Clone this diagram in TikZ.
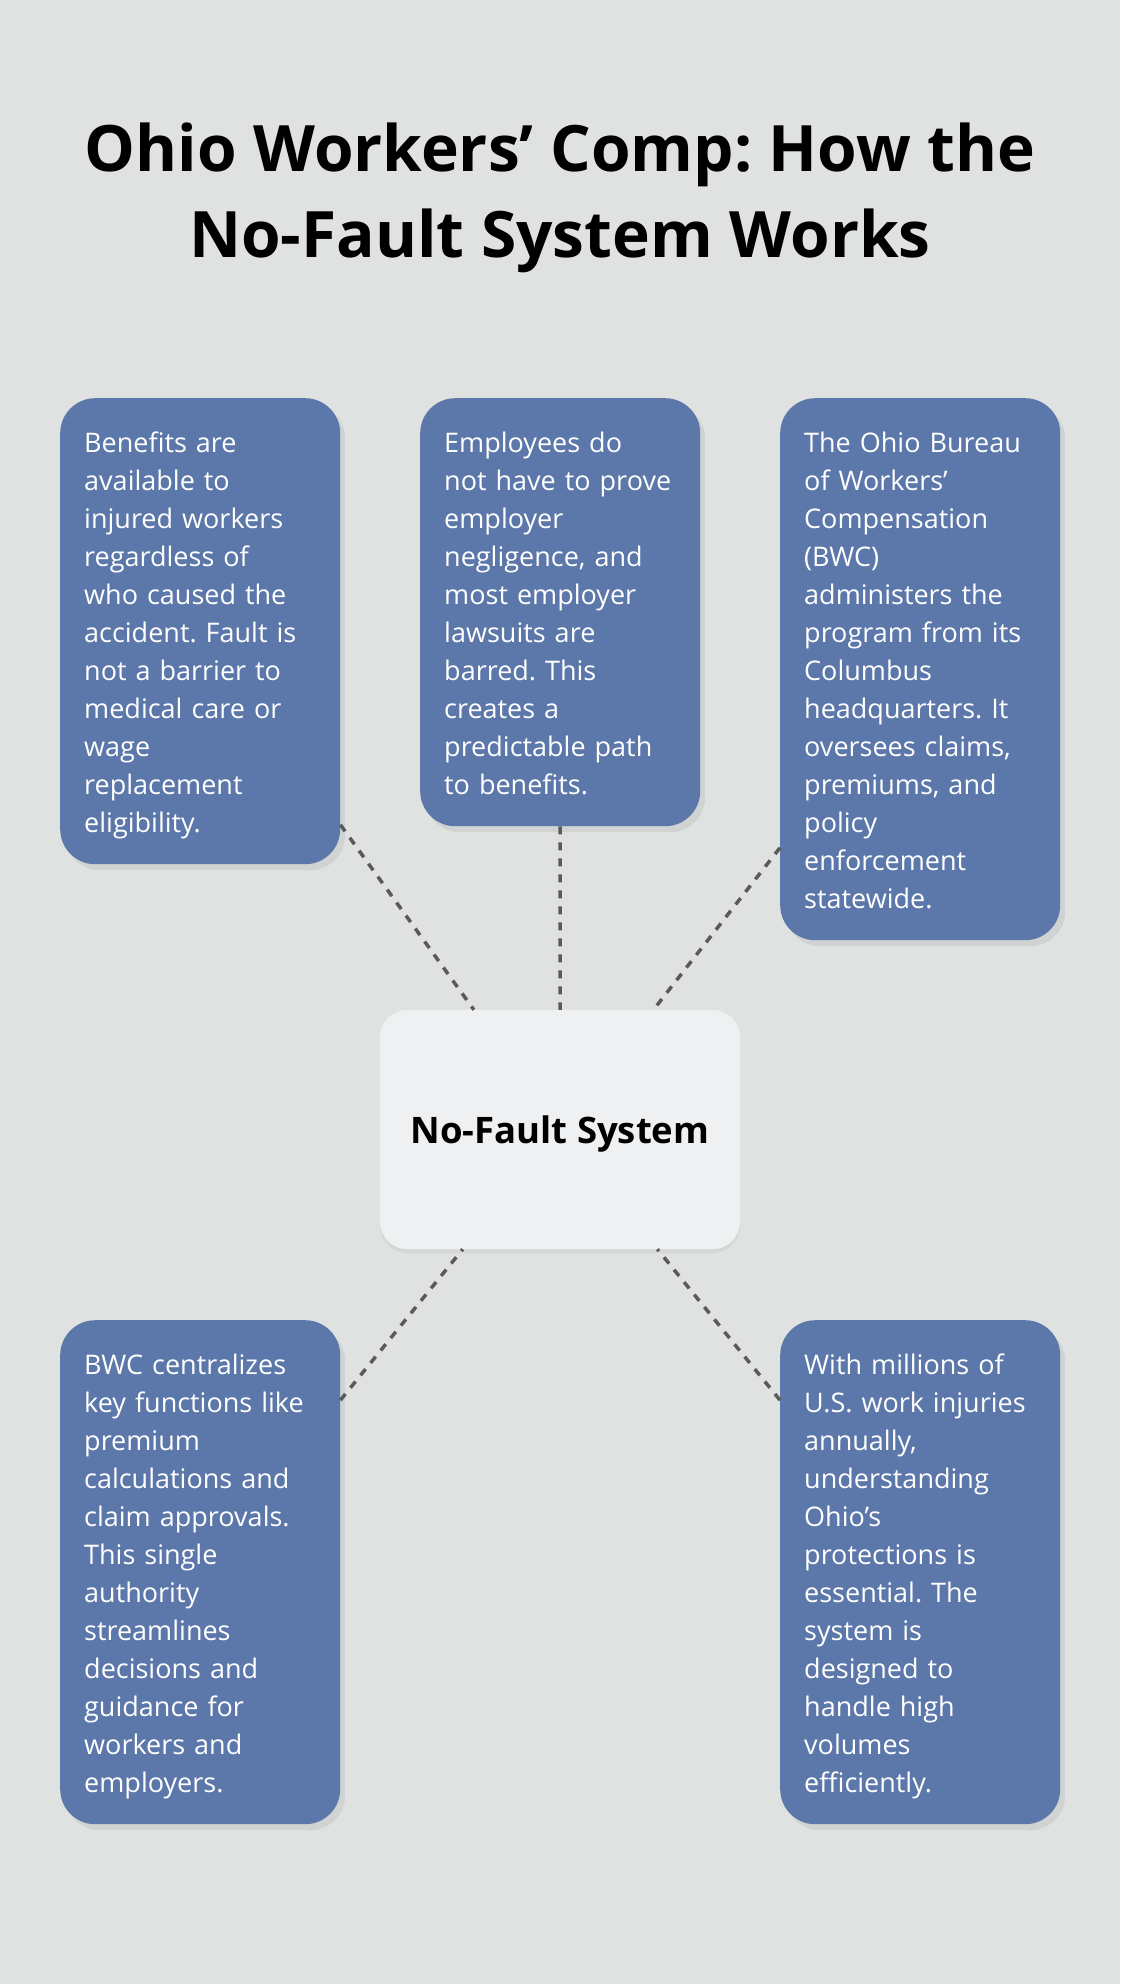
\documentclass[tikz,border=0pt]{standalone}
\usepackage{fontspec}
\setmainfont{Open Sans}
\usepackage{xcolor}
\usetikzlibrary{shadows}

\definecolor{bgGray}{HTML}{E0E2E1}
\definecolor{cardBlue}{HTML}{5C77A9}
\definecolor{hubWhite}{HTML}{EFF0F2}
\definecolor{linkGray}{HTML}{5A5A5A}

\newcommand{\cardstrut}{\rule[-8pt]{0pt}{38pt}}
\frenchspacing

\tikzset{
    card/.style={fill=cardBlue, text=white, rounded corners=35pt, inner sep=24pt,
        text width=232pt, align=left, anchor=north west,
        font=\fontsize{27}{38}\selectfont,
        execute at begin node=\cardstrut, execute at end node=\cardstrut,
        drop shadow={shadow xshift=5pt, shadow yshift=-6pt, opacity=0.15}},
    hub/.style={fill=hubWhite, rounded corners=27pt, minimum width=360pt, minimum height=239pt,
        text height=27pt, text depth=0pt,
        font=\bfseries\fontsize{36.5}{46}\selectfont,
        drop shadow={shadow xshift=0pt, shadow yshift=-4pt, opacity=0.1}},
    headline/.style={anchor=base, font=\bfseries\fontsize{64}{86}\selectfont},
    link/.style={linkGray, line width=3.5pt, dash pattern=on 8pt off 8pt}
}

\begin{document}
\begin{tikzpicture}[x=1pt, y=-1pt]
            \path[use as bounding box, fill=bgGray] (0,0) rectangle (1120,1984);
            % title
            \node[headline] (titleA) at (560,171) {Ohio Workers’ Comp: How the};
            \node[headline] (titleB) at (560,257) {No-Fault System Works};
            % cards
            \node[card] (benefits) at (60,398) {Benefits are\\ available to\\ injured workers\\ regardless of\\ who caused the\\ accident. Fault is\\ not a barrier to\\ medical care or\\ wage\\ replacement\\ eligibility.};
            \node[card] (lawsuits) at (420,398) {Employees do\\ \mbox{not have to prove}\\ employer\\ negligence, and\\ most employer\\ lawsuits are\\ barred. This\\ creates a\\ predictable path\\ to benefits.};
            \node[card] (bureau) at (780,398) {The Ohio Bureau\\ of Workers’\\ Compensation\\ (BWC)\\ administers the\\ program from its\\ Columbus\\ headquarters. It\\ oversees claims,\\ premiums, and\\ policy\\ enforcement\\ statewide.};
            \node[card] (central) at (60,1320) {BWC centralizes\\ \mbox{key functions like}\\ premium\\ calculations and\\ claim approvals.\\ This single\\ authority\\ streamlines\\ decisions and\\ guidance for\\ workers and\\ employers.};
            \node[card] (volume) at (780,1320) {With millions of\\ \mbox{U.S. work injuries}\\ annually,\\ understanding\\ Ohio’s\\ protections is\\ essential. The\\ system is\\ designed to\\ handle high\\ volumes\\ efficiently.};
            % hub
            \node[hub] (hub) at (560,1129.5) {No-Fault System};
            % links
            \foreach \c in {benefits,lawsuits,bureau,central,volume} \draw[link] (\c) -- (hub);
        \end{tikzpicture}
\end{document}
